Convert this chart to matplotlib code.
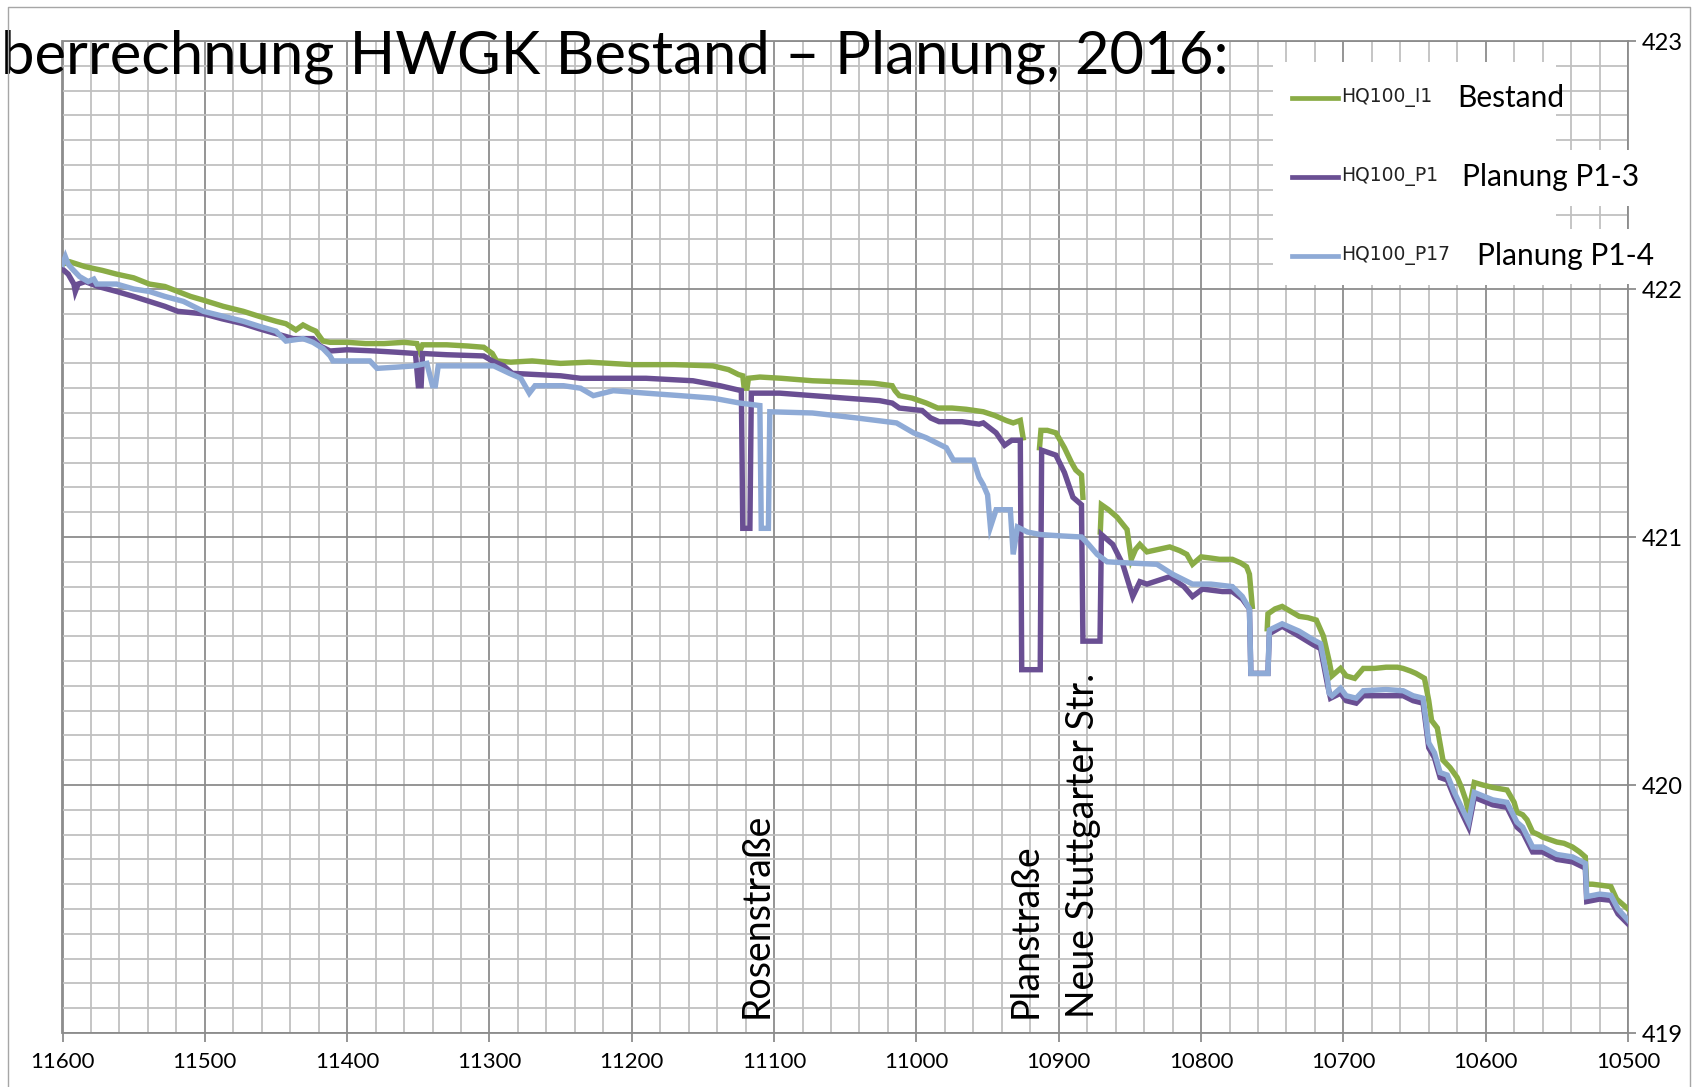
import numpy as np
import matplotlib
matplotlib.use("Agg")
import matplotlib.pyplot as plt
from matplotlib.ticker import MultipleLocator
from matplotlib.patches import Rectangle
from matplotlib.lines import Line2D

nan = np.nan

# ---------------- data ----------------
bestand_km = [11600, 11595, 11584, 11572, 11562, 11550, 11539, 11528, 11519, 11510, 11501, 11487,
              11473, 11462, 11450, 11443, 11436, 11431, 11426, 11422, 11417, 11412, 11400, 11387,
              11374, 11360, 11351, 11349, 11347, 11330, 11315, 11304, 11298, 11295, 11285, 11270,
              11250, 11230, 11200, 11170, 11143, 11132, 11125, 11122, 11121, 11119, 11118, 11110,
              11095, 11073, 11050, 11030, 11017, 11015, 11012, 11003, 10993, 10985, 10975, 10965,
              10953, 10945, 10937, 10932, 10927, 10925, 10924, 10913.5, 10912.5, 10908, 10902, 10896,
              10891, 10888, 10884, 10883, 10882, 10870.8, 10870, 10865, 10859, 10852, 10849, 10846,
              10843, 10838, 10830, 10822, 10815, 10810, 10806, 10800, 10793, 10787, 10778, 10772,
              10768, 10766, 10764, 10763, 10753.5, 10753, 10748, 10743, 10737, 10731, 10725, 10719,
              10714, 10710, 10708, 10702, 10698, 10692, 10686, 10678, 10670, 10662, 10658, 10653,
              10649, 10643, 10640, 10638, 10634, 10630, 10625, 10620, 10617, 10614, 10612, 10610,
              10608, 10602, 10595, 10585, 10580, 10578, 10574, 10571, 10567, 10563, 10560, 10555,
              10550, 10545, 10539, 10534, 10530, 10529, 10525, 10518, 10512, 10508, 10504, 10500]
bestand_wsp = [422.10, 422.11, 422.09, 422.075, 422.06, 422.045, 422.02, 422.01, 421.99, 421.97, 421.955, 421.93,
               421.91, 421.89, 421.87, 421.86, 421.835, 421.855, 421.84, 421.83, 421.79, 421.785, 421.785, 421.78,
               421.78, 421.785, 421.78, 421.75, 421.775, 421.775, 421.77, 421.765, 421.74, 421.71, 421.705, 421.71,
               421.70, 421.705, 421.695, 421.695, 421.69, 421.675, 421.655, 421.65, 421.60, 421.60, 421.64, 421.645,
               421.64, 421.63, 421.625, 421.62, 421.61, 421.59, 421.57, 421.56, 421.54, 421.52, 421.52, 421.515,
               421.505, 421.49, 421.47, 421.46, 421.47, 421.40, nan, 421.36, 421.43, 421.43, 421.42, 421.36,
               421.30, 421.27, 421.25, 421.16, nan, 421.02, 421.13, 421.11, 421.08, 421.03, 420.91, 420.95,
               420.97, 420.94, 420.95, 420.96, 420.945, 420.93, 420.89, 420.92, 420.915, 420.91, 420.91, 420.895,
               420.88, 420.85, 420.72, nan, 420.63, 420.69, 420.71, 420.72, 420.70, 420.68, 420.675, 420.665,
               420.60, 420.50, 420.44, 420.47, 420.44, 420.43, 420.47, 420.47, 420.475, 420.475, 420.47, 420.46,
               420.45, 420.43, 420.34, 420.26, 420.23, 420.10, 420.07, 420.03, 419.99, 419.94, 419.89, 419.95,
               420.01, 420.00, 419.99, 419.98, 419.93, 419.89, 419.88, 419.86, 419.81, 419.80, 419.79, 419.78,
               419.77, 419.765, 419.75, 419.73, 419.71, 419.60, 419.60, 419.595, 419.59, 419.54, 419.52, 419.50]

p13_km = [11600, 11596, 11592, 11591, 11589, 11584, 11575, 11562, 11550, 11539, 11528, 11519, 11501,
          11488, 11473, 11462, 11450, 11438, 11424, 11419, 11412, 11400, 11380, 11365, 11352, 11350,
          11348, 11347, 11330, 11304, 11298, 11290, 11284, 11250, 11236, 11190, 11157, 11138, 11123,
          11122, 11117, 11116, 11096, 11073, 11050, 11026, 11017, 11012, 10996, 10990, 10984, 10968,
          10956, 10953, 10944, 10938, 10933, 10927, 10926, 10913, 10912, 10902, 10896, 10890, 10884,
          10883, 10871, 10870, 10862, 10855, 10848, 10843, 10838, 10830, 10822, 10812, 10806, 10799,
          10785, 10778, 10771, 10766, 10765, 10753, 10752, 10743, 10731, 10721, 10716, 10711, 10709,
          10702, 10698, 10691, 10686, 10670, 10658, 10651, 10644, 10640, 10636, 10632, 10627, 10622,
          10612, 10608, 10595, 10585, 10578, 10574, 10567, 10560, 10550, 10539, 10530, 10529, 10520,
          10512, 10507, 10500]
p13_wsp = [422.08, 422.06, 422.02, 421.99, 422.02, 422.03, 422.01, 421.99, 421.97, 421.95, 421.93, 421.91, 421.90,
           421.88, 421.86, 421.84, 421.82, 421.80, 421.80, 421.77, 421.75, 421.755, 421.75, 421.745, 421.74, 421.61,
           421.61, 421.74, 421.735, 421.73, 421.71, 421.69, 421.66, 421.65, 421.64, 421.64, 421.63, 421.61, 421.59,
           421.035, 421.035, 421.58, 421.58, 421.57, 421.56, 421.55, 421.54, 421.52, 421.51, 421.48, 421.465, 421.465,
           421.455, 421.46, 421.42, 421.37, 421.39, 421.39, 420.465, 420.465, 421.35, 421.33, 421.26, 421.16, 421.13,
           420.58, 420.58, 421.01, 420.97, 420.89, 420.76, 420.82, 420.81, 420.825, 420.84, 420.80, 420.76, 420.79,
           420.78, 420.78, 420.75, 420.71, 420.45, 420.45, 420.61, 420.64, 420.60, 420.565, 420.55, 420.40, 420.35,
           420.37, 420.34, 420.33, 420.36, 420.36, 420.36, 420.34, 420.33, 420.15, 420.11, 420.03, 420.02, 419.95,
           419.83, 419.95, 419.92, 419.91, 419.83, 419.81, 419.73, 419.73, 419.70, 419.69, 419.665, 419.53, 419.54,
           419.535, 419.48, 419.44]

p14_km = [11600, 11598, 11596, 11593, 11588, 11582, 11578, 11576, 11562, 11550, 11539, 11528, 11515,
          11501, 11487, 11473, 11462, 11450, 11443, 11431, 11424, 11417, 11412, 11410, 11395, 11384,
          11379, 11365, 11353, 11344, 11340, 11338, 11336, 11320, 11297, 11286, 11278, 11272, 11268,
          11248, 11236, 11227, 11213, 11190, 11166, 11143, 11124, 11110, 11109, 11104, 11103, 11073,
          11042, 11014, 11002, 10993, 10986, 10979, 10974, 10960, 10956, 10953, 10950, 10948, 10944,
          10934, 10932, 10929, 10922, 10913, 10900, 10884, 10879, 10873, 10866, 10850, 10831, 10820,
          10806, 10793, 10778, 10771, 10766, 10765, 10753, 10752, 10743, 10731, 10721, 10716, 10711,
          10710, 10708, 10702, 10698, 10691, 10686, 10670, 10658, 10651, 10644, 10640, 10636, 10632,
          10627, 10622, 10612, 10608, 10595, 10585, 10578, 10574, 10567, 10560, 10550, 10539, 10530,
          10529, 10520, 10512, 10507, 10500]
p14_wsp = [422.10, 422.13, 422.10, 422.08, 422.05, 422.03, 422.04, 422.02, 422.02, 422.00, 421.99, 421.97, 421.95,
           421.91, 421.89, 421.87, 421.85, 421.83, 421.79, 421.80, 421.785, 421.76, 421.73, 421.71, 421.71, 421.71,
           421.68, 421.685, 421.69, 421.70, 421.61, 421.61, 421.69, 421.69, 421.69, 421.66, 421.64, 421.58, 421.61,
           421.61, 421.60, 421.57, 421.59, 421.58, 421.57, 421.56, 421.54, 421.53, 421.035, 421.035, 421.505, 421.50,
           421.48, 421.46, 421.42, 421.40, 421.38, 421.36, 421.31, 421.31, 421.24, 421.21, 421.17, 421.04, 421.11,
           421.11, 420.93, 421.04, 421.02, 421.01, 421.005, 421.00, 420.97, 420.93, 420.90, 420.895, 420.89, 420.85,
           420.81, 420.81, 420.80, 420.76, 420.71, 420.45, 420.45, 420.625, 420.65, 420.62, 420.585, 420.57, 420.42,
           420.37, 420.36, 420.39, 420.36, 420.35, 420.38, 420.385, 420.38, 420.36, 420.35, 420.17, 420.13, 420.05,
           420.04, 419.97, 419.85, 419.97, 419.94, 419.93, 419.85, 419.83, 419.75, 419.75, 419.72, 419.71, 419.684,
           419.55, 419.56, 419.555, 419.50, 419.455]

series_codes = ["HQ100_I1", "HQ100_P1", "HQ100_P17"]
series_names = ["Bestand", "Planung P1-3", "Planung P1-4"]
street_names = ["Rosenstraße", "Planstraße", "Neue Stuttgarter Str."]
street_km = [11112, 10923, 10883]
title_text = "berrechnung HWGK Bestand \u2013 Planung, 2016:"

# ---------------- layout ----------------
W, H = 1699, 1087
fig = plt.figure(figsize=(W / 100, H / 100), dpi=100)
fig.patch.set_facecolor("white")

def fx(x):
    return x / W

def fy(y):
    return 1 - y / H

x0, x1, ytop, ybot = 62.5, 1628, 41, 1033
ax = fig.add_axes([fx(x0), fy(ybot), fx(x1) - fx(x0), fy(ytop) - fy(ybot)])
ax.set_xlim(11600, 10500)
ax.set_ylim(419, 423)

ax.xaxis.set_major_locator(MultipleLocator(100))
ax.xaxis.set_minor_locator(MultipleLocator(20))
ax.yaxis.set_major_locator(MultipleLocator(1))
ax.yaxis.set_minor_locator(MultipleLocator(0.1))
ax.yaxis.tick_right()

major_c = "#8c8c8c"
minor_c = "#c0c0c0"
ax.grid(True, which="minor", color=minor_c, lw=1.3, zorder=0)
ax.grid(True, which="major", color=major_c, lw=1.3, zorder=0)
ax.set_axisbelow(True)
for s in ax.spines.values():
    s.set_color(major_c)
    s.set_linewidth(1.3)

tickfont = "Lato"
ax.tick_params(axis="x", which="major", length=6.5, width=1.3, color=major_c, pad=7,
               labelsize=16)
ax.tick_params(axis="y", which="major", length=6, width=1.3, color=major_c, pad=4,
               labelsize=17)
ax.tick_params(which="minor", length=0)
for lab in ax.get_xticklabels() + ax.get_yticklabels():
    lab.set_fontfamily(tickfont)

colors = ["#8aac46", "#6a4f93", "#8eaad6"]
lw = 3.9
ax.plot(bestand_km, bestand_wsp, color=colors[0], lw=lw, zorder=3, solid_joinstyle="miter")
ax.plot(p13_km, p13_wsp, color=colors[1], lw=lw, zorder=4, solid_joinstyle="miter")
ax.plot(p14_km, p14_wsp, color=colors[2], lw=lw, zorder=5, solid_joinstyle="miter")

for name, km in zip(street_names, street_km):
    ax.text(km, 419.06, name, rotation=90, ha="center", va="bottom",
            fontsize=27, family="Lato", color="black", zorder=6)

# legend block (white background + entries)
for (a, b, c, d) in [(1273, 62, 1556, 285), (1556, 150, 1630, 206), (1556, 229, 1630, 284)]:
    fig.add_artist(Rectangle((fx(a), fy(d)), fx(c) - fx(a), fy(b) - fy(d),
                             transform=fig.transFigure, facecolor="white",
                             edgecolor="none", zorder=5))
rows_y = [97.7, 177, 256]
big_x = [1457, 1462, 1477]
for i in range(3):
    fig.add_artist(Line2D([fx(1292), fx(1338)], [fy(rows_y[i])] * 2, color=colors[i],
                          lw=3.4, transform=fig.transFigure, zorder=6))
    fig.text(fx(1341), fy(rows_y[i]), series_codes[i], fontsize=13.5, family="DejaVu Sans",
             va="center", ha="left", zorder=7, color="#222222")
    fig.text(fx(big_x[i]), fy(rows_y[i]), series_names[i], fontsize=21.5, family="Lato",
             va="center", ha="left", zorder=7)

# title (cropped at left)
fig.text(fx(1), fy(74), title_text, fontsize=43, family="Lato", ha="left",
         va="baseline", zorder=8)

# outer chart frame
fig.add_artist(Line2D([fx(8), fx(8), fx(1690), fx(1690)], [0, fy(7), fy(7), 0],
                      color="#a6a6a6", lw=1.0, transform=fig.transFigure, zorder=9))

fig.savefig("out.png", dpi=100, facecolor="white")
